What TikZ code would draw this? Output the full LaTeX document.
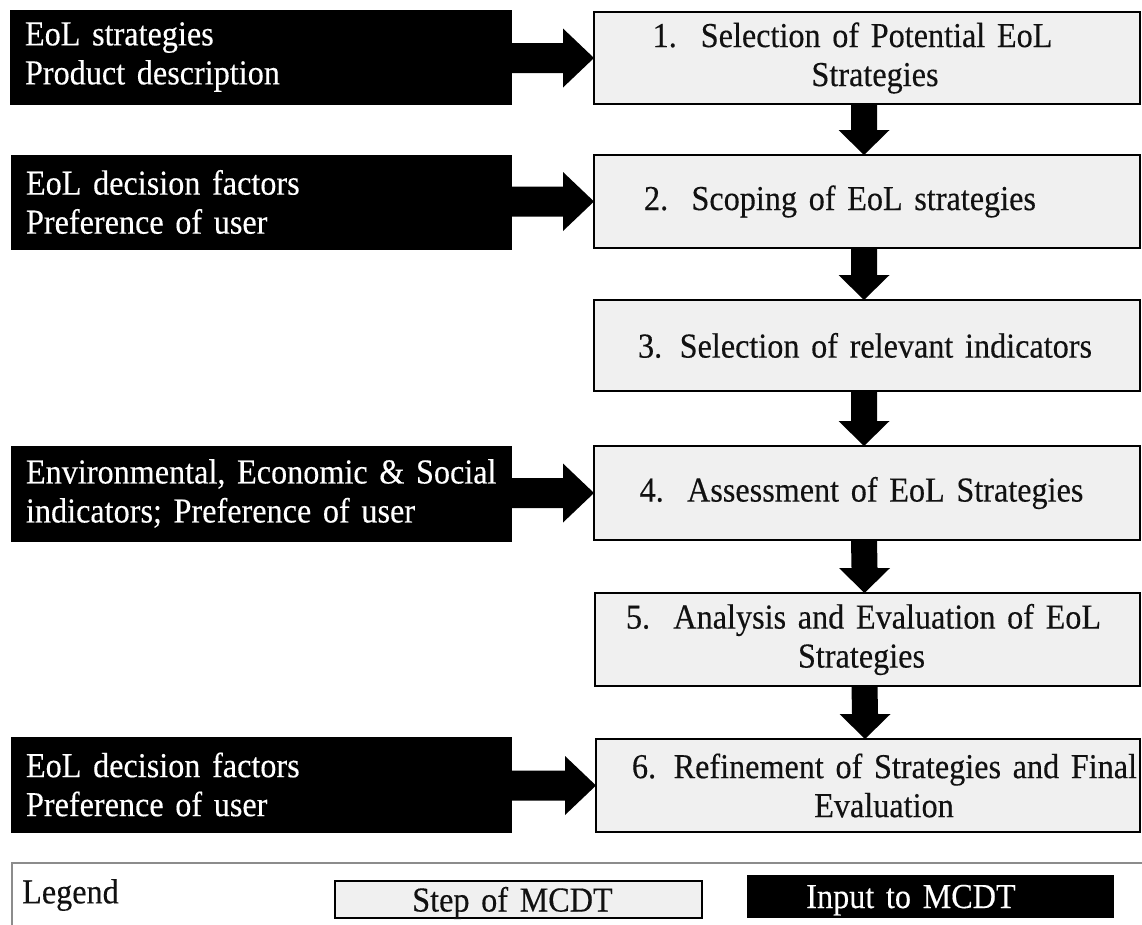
\documentclass[tikz,border=0pt]{standalone}
\usepackage{fontspec}
\setmainfont{Liberation Serif}[FakeStretch=0.92, WordSpace=0.7, FakeBold=0.3]
\usetikzlibrary{calc}
\definecolor{boxgray}{HTML}{F0F0F0}
\definecolor{framegray}{HTML}{8C8C8C}
\definecolor{inkblack}{HTML}{111111}
\newcommand\sh[2]{\mbox{\hspace*{#1}#2\hspace*{-#1}}}
% horizontal block arrow from input box #1 to step box #2
\newcommand\harr[2]{\fill[black] ($(#1.east|-#2.west)+(0,-15)$) -- ($(#2.west)+(-31,-15)$) -- ($(#2.west)+(-31,-29.5)$) -- (#2.west) -- ($(#2.west)+(-31,29.5)$) -- ($(#2.west)+(-31,15)$) -- ($(#1.east|-#2.west)+(0,15)$) -- cycle;}
% vertical block arrow from step #1 down to step #2
\newcommand\varr[2]{\fill[black] ($(#1.south)+(-16,0)$) -- ($(#1.south)+(10,0)$) -- ($(#2.north)+(10,-25)$) -- ($(#2.north)+(22.5,-25)$) -- ($(#2.north)+(-3,0)$) -- ($(#2.north)+(-28.5,-25)$) -- ($(#2.north)+(-16,-25)$) -- cycle;}
\tikzset{
  stepbox/.style={draw=black, line width=2.5pt, fill=boxgray, text=inkblack, inner xsep=0pt, inner ysep=0pt, outer sep=0pt, align=center, font=\fontsize{35}{39}\selectfont},
  inbox/.style={draw=black, line width=0.5pt, fill=black, text=white, inner xsep=15pt, inner ysep=0pt, outer sep=0pt, align=left, font=\fontsize{35}{39}\selectfont},
}
\begin{document}
\begin{tikzpicture}[x=1pt, y=-1pt]
\useasboundingbox (0,0) rectangle (1142,924);
\clip (0,0) rectangle (1142,924);
\fill[white] (0,0) rectangle (1142,924);

% input boxes
\node[inbox, text width=471pt, minimum height=94pt] (b1) at (260.5,57) {\mbox{EoL strategies}\\\mbox{Product description}};
\node[inbox, text width=470pt, minimum height=94pt] (b2) at (261,202) {\mbox{EoL decision factors}\\\mbox{Preference of user}};
\node[inbox, text width=470pt, minimum height=95pt] (b4) at (261,493.5) {\mbox{Environmental, Economic \& Social}\\\mbox{indicators; Preference of user}};
\node[inbox, text width=470pt, minimum height=95pt] (b6) at (261,784.5) {\mbox{EoL decision factors}\\\mbox{Preference of user}};

% step boxes
\node[stepbox, text width=546pt, minimum height=92pt] (g1) at (867,58) {\sh{-14.5pt}{1.\hspace{24pt}Selection of Potential EoL}\\\sh{8pt}{Strategies}};
\node[stepbox, text width=546pt, minimum height=93pt] (g2) at (867,201.5) {\sh{-27pt}{2.\ \ Scoping of EoL strategies}};
\node[stepbox, text width=546pt, minimum height=91pt] (g3) at (867,345.5) {\sh{-2pt}{3. Selection of relevant indicators}};
\node[stepbox, text width=546pt, minimum height=94pt] (g4) at (867,493) {\sh{-5.5pt}{4.\ \ Assessment of EoL Strategies}};
\node[stepbox, text width=545pt, minimum height=93pt] (g5) at (867.5,639.5) {\sh{-4pt}{5.\ \ Analysis and Evaluation of EoL}\\\sh{-6pt}{Strategies}};
\node[stepbox, text width=544pt, minimum height=93pt] (g6) at (868,785.5) {\sh{16.5pt}{6. Refinement of Strategies and Final}\\\sh{16pt}{Evaluation}};

% arrows
\harr{b1}{g1}
\harr{b2}{g2}
\harr{b4}{g4}
\harr{b6}{g6}
\varr{g1}{g2}
\varr{g2}{g3}
\varr{g3}{g4}
\varr{g4}{g5}
\varr{g5}{g6}

% legend
\draw[framegray, line width=2pt] (12,940) -- (12,863) -- (1160,863);
\node[anchor=west, inner sep=0pt, text=inkblack, font=\fontsize{35}{39}\selectfont] (legtxt) at (22,895) {Legend};
\node[stepbox, text width=367pt, minimum height=37pt, text height=24pt, text depth=0pt] (leg1) at (518.5,899.5) {\sh{-6pt}{Step of MCDT}};
\node[inbox, inner xsep=0pt, text width=366pt, minimum height=42pt, text height=24pt, text depth=0pt, align=center] (leg2) at (930,896) {\sh{-19pt}{Input to MCDT}};
\end{tikzpicture}
\end{document}
